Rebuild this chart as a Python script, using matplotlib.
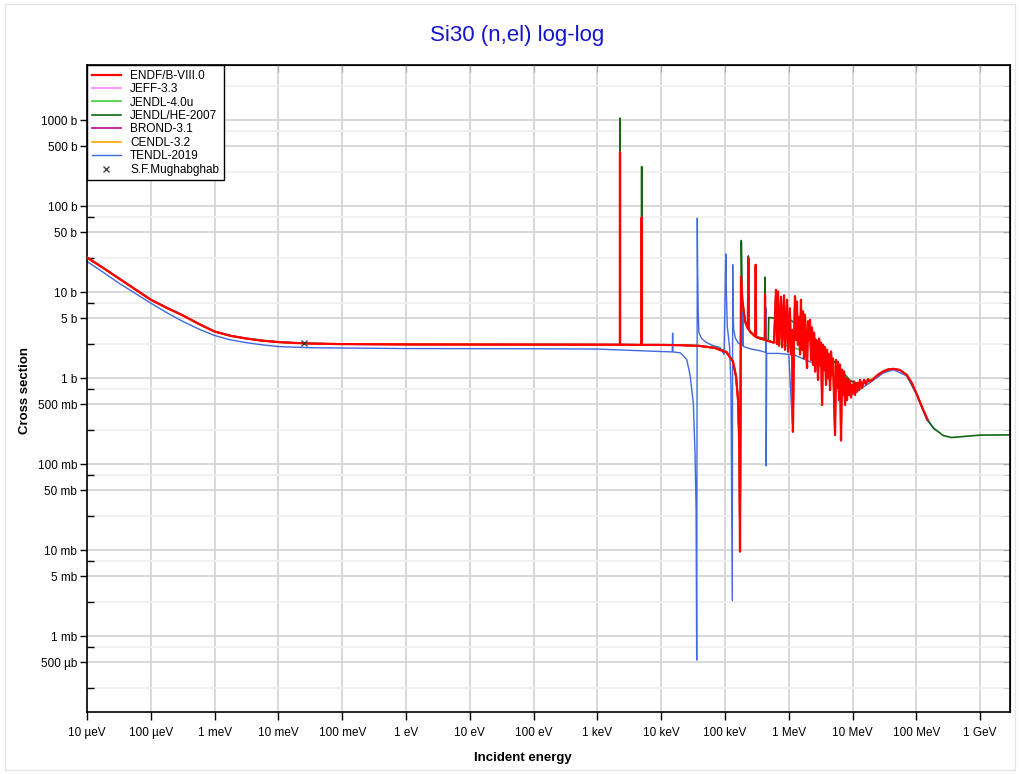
"""Si30 (n,el) cross section, log-log, several evaluated libraries"""

import matplotlib
matplotlib.use('Agg')
import matplotlib.pyplot as plt
from matplotlib.ticker import FixedLocator, FixedFormatter, NullFormatter
from matplotlib.patches import Rectangle

plt.rcParams['font.family'] = ['Liberation Sans', 'DejaVu Sans']

# ---- data (energy in eV, cross section in barns) ----
endf_e = [1e-5, 1.78e-5, 3.16e-5, 5.62e-5, 1e-4, 1.78e-4, 3.16e-4, 5.62e-4, 1e-3, 1.78e-3,
          3.16e-3, 5.62e-3, 1e-2, 1.78e-2, 3.16e-2, 0.1, 1, 100, 1000,
          2.25e3, 2.26e3, 2.27e3, 4.92e3, 4.94e3, 4.96e3, 1e4, 2e4, 4e4, 7e4,
          1.06e5, 1.33e5, 1.486e5, 1.6e5, 1.68e5, 1.718e5, 1.78e5, 1.868e5, 2.058e5,
          2.28e5, 2.32e5, 2.36e5, 2.46e5, 2.99e5, 3.03e5, 3.07e5, 3.14e5,
          4.2e5, 4.24e5, 4.28e5, 4.51e5,
          5.86e5, 6.30e5, 6.53e5, 6.77e5, 7.02e5, 7.55e5, 7.83e5, 8.42e5, 8.71e5,
          9.38e5, 9.72e5, 1.04e6, 1.08e6, 1.12e6, 1.16e6, 1.20e6, 1.25e6, 1.29e6,
          1.34e6, 1.39e6, 1.44e6, 1.50e6, 1.55e6, 1.61e6, 1.67e6, 1.73e6, 1.79e6,
          1.86e6, 1.93e6, 2.00e6, 2.07e6, 2.15e6, 2.23e6, 2.31e6, 2.40e6, 2.49e6,
          2.58e6, 2.67e6, 2.77e6, 2.87e6, 2.98e6, 3.08e6, 3.20e6, 3.32e6, 3.44e6,
          3.56e6, 3.69e6, 3.83e6, 3.97e6, 4.12e6, 4.27e6, 4.43e6, 4.59e6, 4.76e6,
          4.93e6, 5.11e6, 5.30e6, 5.50e6, 5.70e6, 5.91e6, 6.12e6, 6.35e6, 6.58e6,
          6.83e6, 7.08e6, 7.34e6, 7.60e6, 7.88e6, 8.17e6, 8.47e6, 8.79e6, 9.11e6,
          9.44e6, 9.79e6, 1.015e7, 1.05e7, 1.09e7, 1.13e7, 1.17e7, 1.21e7, 1.26e7,
          1.31e7, 1.40e7, 1.51e7, 1.62e7, 1.74e7, 1.87e7, 2.0e7,
          2.5e7, 3.0e7, 3.6e7, 4.35e7, 5.5e7, 7.05e7, 8.5e7, 1.0e8, 1.2e8, 1.5e8]
endf_xs = [25.4, 19.3, 14.5, 10.9, 8.2, 6.6, 5.4, 4.3, 3.5, 3.12,
           2.9, 2.74, 2.64, 2.58, 2.54, 2.5, 2.48, 2.47, 2.46,
           2.46, 423, 2.46, 2.45, 74, 2.45, 2.45, 2.43, 2.38, 2.25,
           2.0, 1.57, 1.05, 0.56, 0.15, 0.0097, 15.3, 8.1, 4.6,
           3.8, 25, 3.7, 3.5, 3.06, 20.9, 3.05, 3.0,
           2.8, 9.4, 2.8, 2.75,
           2.6, 10.7, 2.5, 10.2, 2.4, 8.9, 2.3, 9.2, 2.15,
           8.2, 2.05, 6.5, 1.9, 3.66, 0.24, 2.15, 9.0, 2.8,
           7.8, 2.46, 5.2, 1.9, 8.2, 2.15, 6.0, 1.7, 5.5,
           2.46, 1.32, 4.6, 2.8, 4.8, 1.64, 3.9, 1.44, 3.4,
           1.2, 2.8, 2.46, 0.96, 2.9, 1.44, 2.6, 0.49, 2.46,
           1.26, 2.3, 0.84, 2.15, 1.0, 1.9, 0.73, 2.05, 1.1,
           1.7, 0.64, 0.22, 1.64, 0.77, 1.55, 0.56, 1.44, 0.19,
           1.26, 0.64, 1.2, 0.49, 1.0, 0.56, 0.96, 0.64, 0.92,
           0.6, 0.84, 0.68, 0.92, 0.64, 0.87, 0.7, 0.89, 0.73,
           0.96, 0.77, 0.96, 0.85, 0.98, 0.92, 0.95,
           1.1, 1.2, 1.27, 1.29, 1.25, 1.10, 0.88, 0.67, 0.48, 0.33]

# JENDL/HE-2007: taller keV resonances, coarse MeV region, goes up to 3 GeV
jendl_he_e = [1e-5, 1.78e-5, 3.16e-5, 5.62e-5, 1e-4, 1.78e-4, 3.16e-4, 5.62e-4, 1e-3, 1.78e-3,
              3.16e-3, 5.62e-3, 1e-2, 1.78e-2, 3.16e-2, 0.1, 1, 100, 1000,
              2.25e3, 2.26e3, 2.27e3, 4.92e3, 4.94e3, 4.96e3, 1e4, 2e4, 4e4, 7e4,
              1.06e5, 1.33e5, 1.486e5, 1.6e5, 1.68e5, 1.718e5, 1.8e5, 1.87e5, 2.06e5,
              2.28e5, 2.32e5, 2.36e5, 2.46e5, 3.0e5, 3.03e5, 3.07e5, 4.2e5, 4.24e5,
              4.28e5, 4.77e5, 4.85e5, 1.04e6, 1.79e6, 3.0e6, 5.0e6, 9.0e6, 1.3e7,
              2.0e7, 2.5e7, 3.0e7, 3.6e7, 4.35e7, 5.5e7, 7.05e7, 8.5e7, 1.0e8, 1.45e8,
              1.84e8, 2.65e8, 3.57e8, 1.0e9, 2.95e9]
jendl_he_xs = [25.6, 19.4, 14.6, 11.0, 8.25, 6.65, 5.45, 4.33, 3.52, 3.14,
               2.92, 2.76, 2.65, 2.59, 2.55, 2.51, 2.49, 2.48, 2.47,
               2.47, 1060, 2.47, 2.46, 290, 2.46, 2.46, 2.44, 2.4, 2.28,
               2.05, 1.6, 1.1, 0.6, 0.15, 0.01, 40, 8.0, 4.7,
               3.9, 26.5, 3.8, 3.5, 3.1, 20, 3.05, 2.9, 15,
               2.85, 2.75, 5.1, 4.8, 3.73, 2.6, 1.6, 0.95, 0.85,
               0.95, 1.1, 1.2, 1.27, 1.29, 1.25, 1.10, 0.88, 0.67, 0.344,
               0.264, 0.216, 0.205, 0.219, 0.22]

# JENDL-4.0u: same as ENDF below 0.6 MeV, smooth step above
jendl40_e = endf_e[:50] + [6.5e5, 1.5e6, 1.51e6, 1.79e6, 3.0e6, 6.0e6, 1.0e7, 1.2e7, 2.0e7]
jendl40_xs = endf_xs[:50] + [2.6, 2.15, 3.0, 2.8, 2.1, 1.2, 0.75, 0.82, 0.98]

# JEFF-3.3, BROND-3.1, CENDL-3.2 lie under ENDF/B-VIII.0 up to 20 MeV
jeff_e, jeff_xs = endf_e[:142], endf_xs[:142]
brond_e, brond_xs = endf_e[:142], endf_xs[:142]
cendl_e, cendl_xs = endf_e[:142], endf_xs[:142]

tendl_e = [1e-5, 1.78e-5, 3.16e-5, 5.62e-5, 1e-4, 1.78e-4, 3.16e-4, 5.62e-4, 1e-3, 1.78e-3,
           3.16e-3, 5.62e-3, 1e-2, 3.16e-2, 1, 100, 1000, 1e4,
           1.49e4, 1.51e4, 1.53e4, 2.0e4, 2.51e4, 2.83e4, 3.19e4, 3.39e4, 3.52e4, 3.6e4, 3.68e4,
           3.72e4, 3.8e4, 3.9e4, 4.3e4, 5.16e4, 6.5e4, 8.36e4, 9.65e4, 1.03e5, 1.05e5, 1.086e5,
           1.18e5, 1.24e5, 1.30e5, 1.32e5, 1.34e5, 1.37e5, 1.45e5, 1.6e5, 1.86e5, 1.9e5,
           1.94e5, 2.5e5, 3.5e5, 4.38e5, 4.40e5, 4.42e5, 4.5e5, 7e5, 1.0e6, 1.135e6, 1.16e6,
           2e6, 3e6, 5e6, 7e6, 1e7, 1.5e7, 2e7, 3e7, 4.35e7, 7e7, 1e8, 1.45e8, 2e8]
tendl_xs = [22.8, 17.2, 12.8, 9.8, 7.5, 5.8, 4.6, 3.75, 3.15, 2.8,
            2.6, 2.45, 2.34, 2.27, 2.22, 2.21, 2.19, 2.05,
            2.03, 3.36, 2.03, 1.98, 1.66, 1.1, 0.51, 0.134, 0.03, 0.00053, 73,
            20, 6.0, 3.4, 2.9, 2.6, 2.4, 2.28, 1.9, 28, 10, 4.0,
            2.3, 0.8, 0.0026, 21, 6.0, 3.66, 2.95, 2.6, 2.4, 6.3,
            2.35, 2.2, 2.1, 2.0, 6.6, 0.096, 1.95, 1.95, 1.9, 0.3, 1.9,
            1.6, 1.4, 1.0, 0.75, 0.65, 0.8, 0.92, 1.15, 1.26, 1.07, 0.65, 0.33, 0.25]

mugh_e = [0.0253]
mugh_xs = [2.55]

xtick_vals = [1e-5, 1e-4, 1e-3, 1e-2, 1e-1, 1, 10, 100, 1e3, 1e4, 1e5, 1e6, 1e7, 1e8, 1e9]
xtick_labels = ['10 µeV', '100 µeV', '1 meV', '10 meV', '100 meV', '1 eV', '10 eV',
                '100 eV', '1 keV', '10 keV', '100 keV', '1 MeV', '10 MeV', '100 MeV', '1 GeV']
ytick_vals = [5e-4, 1e-3, 5e-3, 1e-2, 5e-2, 0.1, 0.5, 1, 5, 10, 50, 100, 500, 1000]
ytick_labels = ['500 µb', '1 mb', '5 mb', '10 mb', '50 mb', '100 mb', '500 mb', '1 b',
                '5 b', '10 b', '50 b', '100 b', '500 b', '1000 b']
yminor_vals = [2.5e-4, 7.5e-4, 2.5e-3, 7.5e-3, 2.5e-2, 7.5e-2, 0.25, 0.75, 2.5, 7.5,
               25, 75, 250, 750, 2500]

fig = plt.figure(figsize=(10.2, 7.74), dpi=100)
ax = fig.add_axes([87 / 1020, 1 - 712 / 774, 923 / 1020, 647 / 774])

series = [
    ('ENDF/B-VIII.0', endf_e, endf_xs, '#ff0000', 1.6, 5),
    ('JEFF-3.3', jeff_e, jeff_xs, '#ff80ff', 1.2, 3),
    ('JENDL-4.0u', jendl40_e, jendl40_xs, '#40cc40', 1.2, 3),
    ('JENDL/HE-2007', jendl_he_e, jendl_he_xs, '#116611', 1.2, 2.5),
    ('BROND-3.1', brond_e, brond_xs, '#c0008c', 1.2, 3),
    ('CENDL-3.2', cendl_e, cendl_xs, '#ffa500', 1.2, 3),
    ('TENDL-2019', tendl_e, tendl_xs, '#4169e1', 1.0, 2),
]
for label, e, xs, color, lw, z in series:
    ax.plot(e, xs, color=color, lw=lw, label=label, zorder=z)

ax.plot(mugh_e, mugh_xs, ls='none', marker='x', color='#333333', ms=5, mew=0.9,
        label='S.F.Mughabghab', zorder=6)

ax.set_xscale('log')
ax.set_yscale('log')
ax.set_xlim(1e-5, 2.93e9)
ax.set_ylim(1.32e-4, 4.4e3)

ax.xaxis.set_major_locator(FixedLocator(xtick_vals))
ax.xaxis.set_major_formatter(FixedFormatter(xtick_labels))
ax.xaxis.set_minor_locator(FixedLocator([]))
ax.yaxis.set_major_locator(FixedLocator(ytick_vals))
ax.yaxis.set_major_formatter(FixedFormatter(ytick_labels))
ax.yaxis.set_minor_locator(FixedLocator(yminor_vals))
ax.yaxis.set_minor_formatter(NullFormatter())

ax.tick_params(axis='x', which='major', direction='out', length=6, width=1, labelsize=8.5, pad=5)
ax.tick_params(axis='y', which='major', direction='out', length=5, width=1, labelsize=8.5, pad=2)
ax.tick_params(axis='y', which='minor', direction='in', length=5, width=1)

ax.grid(True, which='major', axis='both', color='#d2d2d2', lw=1.2, zorder=0)
ax.grid(True, which='minor', axis='y', color='#efefef', lw=1.2, zorder=0)
ax.set_axisbelow(True)

for sp in ax.spines.values():
    sp.set_color('black')
    sp.set_linewidth(1.2)

# inward ticks on the right and top frame
axr = ax.secondary_yaxis('right')
axr.yaxis.set_major_locator(FixedLocator(ytick_vals))
axr.yaxis.set_minor_locator(FixedLocator(yminor_vals))
axr.tick_params(which='both', direction='in', length=5, labelright=False)
axt = ax.secondary_xaxis('top')
axt.xaxis.set_major_locator(FixedLocator(xtick_vals))
axt.xaxis.set_minor_locator(FixedLocator([]))
axt.tick_params(which='both', direction='in', length=5, labeltop=False)

leg = ax.legend(loc='upper left', bbox_to_anchor=(0, 1), borderaxespad=0, fontsize=8.5,
                fancybox=False, framealpha=1, edgecolor='black', handlelength=2.5,
                labelspacing=0.12, borderpad=0.4, handletextpad=0.75)
leg.get_frame().set_linewidth(1.0)
leg.set_zorder(10)

fig.text(517 / 1020, 1 - 35 / 774, 'Si30 (n,el) log-log', color='#1414cc', fontsize=16,
         ha='center', va='center')
fig.text(523 / 1020, 1 - 758 / 774, 'Incident energy', fontsize=9.5, fontweight='bold',
         ha='center', va='center')
fig.text(25 / 1020, 1 - 390 / 774, 'Cross section', fontsize=9.5, fontweight='bold',
         rotation=90, ha='center', va='center')

fig.patches.append(Rectangle((5 / 1020, 4 / 774), 1010 / 1020, 766 / 774, transform=fig.transFigure,
                             fill=False, edgecolor='#e4e4e4', lw=1))

fig.savefig('out.png', dpi=100)
